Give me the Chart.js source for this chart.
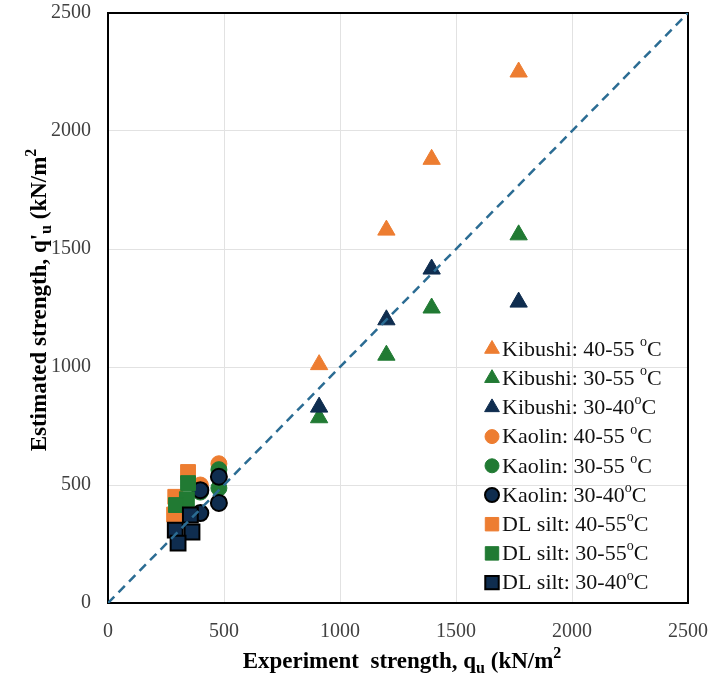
<!DOCTYPE html>
<html>
<head>
<meta charset="utf-8">
<script src="https://cdn.jsdelivr.net/npm/chart.js@4/dist/chart.umd.min.js"></script>
<style>
    html, body { margin: 0; padding: 0; background: #fff; }
    #wrap { width: 708px; height: 681px; position: relative; }
</style>
</head>
<body>
<div id="wrap"><canvas id="strengthChart"></canvas></div>
<script>
// values (kN/m2)
const kibushiX = [910, 1200, 1395, 1770];
const kibushi4055 = [1010, 1580, 1880, 2250];
const kibushi3055 = [785, 1050, 1250, 1560];
const kibushi3040 = [830, 1200, 1415, 1275];

const kaolin4055X = [398, 478];
const kaolin4055 = [500, 590];
const kaolin3055X = [398, 478, 478];
const kaolin3055 = [470, 565, 487];
const kaolin3040X = [398, 398, 478, 478];
const kaolin3040 = [478, 381, 535, 424];

const silt4055X = [345, 290, 285];
const silt4055 = [555, 450, 375];
const silt3055X = [345, 340, 293];
const silt3055 = [508, 440, 415];
const silt3040X = [355, 290, 362, 302];
const silt3040 = [373, 309, 301, 254];

const lineOfEquality = [0, 2500];
const axisTicks = [0, 500, 1000, 1500, 2000, 2500];

const seriesLabels = [
    'Kibushi: 40-55 °C', 'Kibushi: 30-55 °C', 'Kibushi: 30-40°C',
    'Kaolin: 40-55 °C', 'Kaolin: 30-55 °C', 'Kaolin: 30-40°C',
    'DL silt: 40-55°C', 'DL silt: 30-55°C', 'DL silt: 30-40°C',
];

const ORANGE = '#ed7d31';
const GREEN = '#217a33';
const NAVY = '#0f2d4f';
const SERIF = '"Liberation Serif", "Times New Roman", serif';

const toPoints = (xs, ys) => ys.map((y, i) => ({ x: xs[i], y }));

const makeSeries = (label, xs, ys, style, color, border, order) => ({
    type: 'scatter',
    label,
    data: toPoints(xs, ys),
    pointStyle: style,
    pointRadius: style === 'triangle' ? 10 : (style === 'rect' ? 10.5 : 8),
    pointBackgroundColor: color,
    pointBorderColor: border || color,
    pointBorderWidth: border ? 2 : 1,
    order,
});

const datasets = [
    {
        type: 'line',
        label: '1:1',
        data: toPoints(lineOfEquality, lineOfEquality),
        borderColor: '#2b6c93',
        borderWidth: 2.5,
        borderDash: [9, 6],
        pointRadius: 0,
        fill: false,
        order: 0,
    },
    makeSeries(seriesLabels[0], kibushiX, kibushi4055, 'triangle', ORANGE, null, 12),
    makeSeries(seriesLabels[1], kibushiX, kibushi3055, 'triangle', GREEN, null, 11),
    makeSeries(seriesLabels[2], kibushiX, kibushi3040, 'triangle', NAVY, null, 10),
    makeSeries(seriesLabels[3], kaolin4055X, kaolin4055, 'circle', ORANGE, null, 9),
    makeSeries(seriesLabels[4], kaolin3055X, kaolin3055, 'circle', GREEN, null, 8),
    makeSeries(seriesLabels[5], kaolin3040X, kaolin3040, 'circle', NAVY, '#000', 7),
    makeSeries(seriesLabels[6], silt4055X, silt4055, 'rect', ORANGE, null, 6),
    makeSeries(seriesLabels[7], silt3055X, silt3055, 'rect', GREEN, null, 5),
    makeSeries(seriesLabels[8], silt3040X, silt3040, 'rect', NAVY, '#000', 4),
];

// text with sub/superscript pieces
const drawRich = (ctx, parts, size, cx, cy) => {
    const measure = (p) => {
        ctx.font = `bold ${p.sub || p.sup ? Math.round(size * 0.68) : size}px ${SERIF}`;
        return ctx.measureText(p.t).width;
    };
    const total = parts.reduce((w, p) => w + measure(p), 0);
    let x = cx - total / 2;
    parts.forEach((p) => {
        const w = measure(p);
        let dy = 0;
        if (p.sub) dy = size * 0.28;
        if (p.sup) dy = -size * 0.36;
        ctx.fillText(p.t, x, cy + dy);
        x += w;
    });
};

const framePlugin = {
    id: 'frame',
    beforeDatasetsDraw(chart) {
        const { ctx, chartArea: a } = chart;
        ctx.save();
        ctx.strokeStyle = '#000';
        ctx.lineWidth = 2;
        ctx.strokeRect(a.left, a.top, a.right - a.left, a.bottom - a.top);
        ctx.restore();
    },
};

const titlesPlugin = {
    id: 'axisTitles',
    afterDraw(chart) {
        const { ctx } = chart;
        ctx.save();
        ctx.fillStyle = '#000';
        ctx.textBaseline = 'middle';
        ctx.textAlign = 'left';
        drawRich(ctx, [
            { t: 'Experiment  strength, q' },
            { t: 'u', sub: true },
            { t: ' (kN/m' },
            { t: '2', sup: true },
        ], 23, 402, 662);

        ctx.translate(40, 300);
        ctx.rotate(-Math.PI / 2);
        drawRich(ctx, [
            { t: "Estimated strength, q'" },
            { t: 'u', sub: true },
            { t: ' (kN/m' },
            { t: '2', sup: true },
        ], 23, 0, 0);
        ctx.restore();
    },
};

const legendPlugin = {
    id: 'insideLegend',
    afterDraw(chart) {
        const { ctx } = chart;
        const rowTop = 349;
        const rowStep = 29.2;
        const markerX = 492;
        const textX = 502;
        const size = 22;
        ctx.save();
        chart.data.datasets.slice(1).forEach((ds, i) => {
            const y = rowTop + i * rowStep;
            ctx.fillStyle = ds.pointBackgroundColor;
            ctx.strokeStyle = ds.pointBorderColor;
            ctx.lineWidth = ds.pointBorderWidth;
            Chart.helpers.drawPoint(ctx, {
                pointStyle: ds.pointStyle,
                radius: ds.pointStyle === 'triangle' ? 8.5 : (ds.pointStyle === 'rect' ? 9.5 : 7),
                rotation: 0,
                borderWidth: ds.pointBorderWidth,
            }, markerX, y);

            const [main, tail] = ds.label.split('°');
            ctx.fillStyle = '#111';
            ctx.textBaseline = 'middle';
            ctx.textAlign = 'left';
            ctx.font = `${size}px ${SERIF}`;
            ctx.fillText(main, textX, y + 1);
            let x = textX + ctx.measureText(main).width;
            ctx.font = `${Math.round(size * 0.62)}px ${SERIF}`;
            ctx.fillText('o', x, y - size * 0.3);
            x += ctx.measureText('o').width;
            ctx.font = `${size}px ${SERIF}`;
            ctx.fillText(tail, x, y + 1);
        });
        ctx.restore();
    },
};

const axisOptions = (afterFit) => ({
    type: 'linear',
    min: axisTicks[0],
    max: axisTicks[axisTicks.length - 1],
    afterBuildTicks: (scale) => {
        scale.ticks = axisTicks.map((value) => ({ value }));
    },
    ticks: {
        color: '#404040',
        font: { family: SERIF, size: 20 },
        padding: 17,
        callback: (value) => String(value),
    },
    grid: { color: '#e2e2e2', lineWidth: 1, drawTicks: false },
    border: { display: false },
    afterFit,
});

new Chart(document.getElementById('strengthChart'), {
    data: { datasets },
    options: {
        responsive: true,
        maintainAspectRatio: false,
        animation: false,
        layout: { padding: { top: 13, right: 20, left: 0, bottom: 0 } },
        plugins: {
            legend: { display: false },
            tooltip: { enabled: false },
        },
        scales: {
            x: axisOptions((scale) => {
                scale.height = 78;
                scale.paddingLeft = 0;
                scale.paddingRight = 0;
            }),
            y: axisOptions((scale) => {
                scale.width = 108;
                scale.paddingTop = 0;
                scale.paddingBottom = 0;
            }),
        },
    },
    plugins: [framePlugin, titlesPlugin, legendPlugin],
});
</script>
</body>
</html>
